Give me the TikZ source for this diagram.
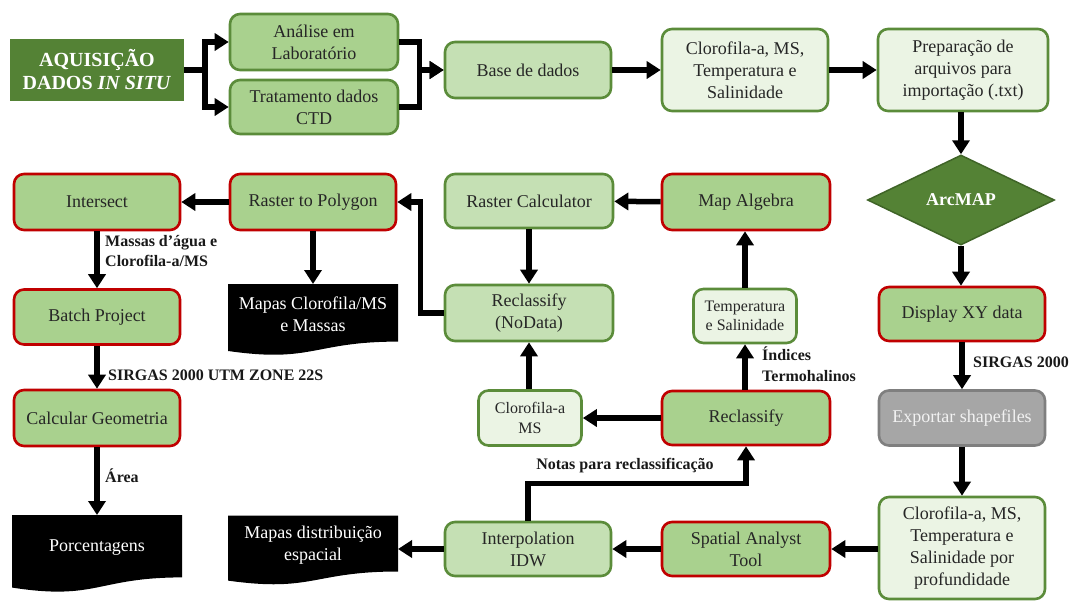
\documentclass[tikz,border=0pt]{standalone}
\usepackage{fontspec}
\setmainfont{Liberation Serif}
\usetikzlibrary{arrows.meta,shapes.geometric,calc,backgrounds}
\definecolor{dg}{HTML}{548235}
\definecolor{dgb}{HTML}{3F6427}
\definecolor{lg}{HTML}{A9D18E}
\definecolor{mg}{HTML}{C5E0B4}
\definecolor{vg}{HTML}{EBF4E4}
\definecolor{bg}{HTML}{5B8C3A}
\definecolor{rb}{HTML}{C00000}
\definecolor{gy}{HTML}{A6A6A6}
\definecolor{gyb}{HTML}{7F7F7F}
\newcommand\docfill[2]{\fill[black] (#1.north west) -- (#1.north east) -- ($(#1.north east)+(0,0.8*#2)$) .. controls ($(#1.north)+(0,0.8*#2)$) and ($(#1.north)+(0,1.1*#2)$) .. ($(#1.north west)+(0,0.93*#2)$) -- cycle;}
\begin{document}
\begin{tikzpicture}[x=1pt,y=-1pt,
  box/.style={rectangle, rounded corners=10pt, line width=2.6pt, align=center,
    font=\fontsize{18}{22}\selectfont, inner sep=1pt, text=black!85},
  gbox/.style={box, draw=bg},
  rbox/.style={box, draw=rb, fill=lg},
  small/.style={font=\fontsize{16}{19.5}\selectfont},
  doc/.style={rectangle, align=center, text=white, inner sep=0pt, outer sep=0pt,
    font=\fontsize{18}{22}\selectfont},
  arr/.style={line width=5.5pt, -{Triangle[length=14pt,width=17pt]}},
  lbl/.style={font=\bfseries\fontsize{16}{20.5}\selectfont, align=left, inner sep=0pt, text=black!90}
]
\useasboundingbox (0,0) rectangle (1074,603);

% top row
\node[rectangle, fill=dg, text=white, align=center, minimum width=174pt, minimum height=62pt,
  font=\bfseries\fontsize{20}{23}\selectfont] (aq) at (97,70) {AQUISIÇÃO\\DADOS \textit{IN SITU}};
\node[gbox, fill=lg, minimum width=168pt, minimum height=56pt] (ana) at (314,42) {Análise em\\Laboratório};
\node[gbox, fill=lg, minimum width=168pt, minimum height=54pt] (tra) at (314,107) {Tratamento dados\\CTD};
\node[gbox, fill=mg, minimum width=166pt, minimum height=56pt] (base) at (528,70) {Base de dados};
\node[gbox, fill=vg, minimum width=166pt, minimum height=82pt] (clo1) at (745,70) {Clorofila-a, MS,\\Temperatura e\\Salinidade};
\node[gbox, fill=vg, minimum width=170pt, minimum height=82pt] (prep) at (963,70) {Preparação de\\arquivos para\\importação (.txt)};

% right column
\node[diamond, fill=dg, draw=dgb, line width=1.5pt, inner sep=0pt, minimum width=187pt, minimum height=90pt,
  text=white, font=\bfseries\fontsize{18}{20}\selectfont] (arc) at (961,200) {ArcMAP};
\node[rbox, minimum width=166pt, minimum height=54pt] (disp) at (962,314) {Display XY data};
\node[box, fill=gy, draw=gyb, text=white!95!black, minimum width=166pt, minimum height=55pt] (exp) at (962,418) {Exportar shapefiles};
\node[gbox, fill=vg, minimum width=166pt, minimum height=102pt] (clo2) at (962,548) {Clorofila-a, MS,\\Temperatura e\\Salinidade por\\profundidade};

% bottom row
\node[rbox, minimum width=168pt, minimum height=54pt] (spa) at (746,549) {Spatial Analyst\\Tool};
\node[gbox, fill=mg, minimum width=166pt, minimum height=54pt] (int) at (528,549) {Interpolation\\IDW};
\node[doc, minimum width=170pt, minimum height=59pt] (mdist) at (313,545) {Mapas distribuição\\espacial};
\node[doc, minimum width=170pt, minimum height=66pt] (porc) at (97,548) {Porcentagens};

% left column
\node[rbox, minimum width=166pt, minimum height=56pt] (calc) at (97,418) {Calcular Geometria};
\node[rbox, minimum width=166pt, minimum height=55pt] (batch) at (97,317) {Batch Project};
\node[rbox, minimum width=166pt, minimum height=56pt] (inter) at (97,202) {Intersect};
\node[rbox, minimum width=166pt, minimum height=56pt] (r2p) at (313,202) {Raster to Polygon};
\node[doc, minimum width=170pt, minimum height=60pt] (mcl) at (313,314) {Mapas Clorofila/MS\\e Massas};

% middle
\node[gbox, fill=mg, minimum width=168pt, minimum height=54pt] (rcalc) at (529,201) {Raster Calculator};
\node[rbox, minimum width=168pt, minimum height=56pt] (malg) at (746,202) {Map Algebra};
\node[gbox, fill=mg, minimum width=168pt, minimum height=56pt] (rnod) at (529,313) {Reclassify\\(NoData)};
\node[gbox, fill=vg, small, minimum width=103pt, minimum height=54pt] (ts) at (745,316) {Temperatura\\e Salinidade};
\node[gbox, fill=vg, small, minimum width=103pt, minimum height=55pt] (cms) at (530,418) {Clorofila-a\\MS};
\node[rbox, minimum width=168pt, minimum height=54pt] (recl) at (746,418) {Reclassify};

% document shapes
\begin{scope}[on background layer]
\fill[white] (0,0) rectangle (1074,603);
\docfill{mcl}{72}
\docfill{mdist}{70}
\docfill{porc}{78}
\end{scope}

% connectors
\draw[arr] (aq.east) -- ++(21,0) |- (ana.west);
\draw[arr] (aq.east) -- ++(21,0) |- (tra.west);
\draw[arr] (ana.east) -- ++(20,0) |- (base.west);
\draw[arr] (tra.east) -- ++(20,0) |- (base.west);
\draw[arr] (base) -- (clo1);
\draw[arr] (clo1) -- (prep);
\draw[arr] (prep.south -| arc.north) -- (arc.north);
\draw[arr] (arc.south) -- (arc.south |- disp.north);
\draw[arr] (disp) -- (exp);
\draw[arr] (exp) -- (clo2);
\draw[arr] (clo2.west |- spa.east) -- (spa.east);
\draw[arr] (spa) -- (int);
\draw[arr] (int.west) -- (int.west -| mdist.east);
\draw[arr] (int.north) -- ++(0,-37) -| (recl.south);
\draw[arr] (recl) -- (cms);
\draw[arr] (recl.north -| ts.south) -- (ts.south);
\draw[arr] (ts.north) -- (ts.north |- malg.south);
\draw[arr] (malg) -- (rcalc);
\draw[arr] (rcalc) -- (rnod);
\draw[arr] (cms.north -| rnod.south) -- (rnod.south);
\draw[arr] (rnod.west) -- ++(-23,0) |- (r2p.east);
\draw[arr] (r2p) -- (inter);
\draw[arr] (r2p.south) -- (mcl.north);
\draw[arr] (inter) -- (batch);
\draw[arr] (batch) -- (calc);
\draw[arr] (calc.south) -- (porc.north);

% labels
\node[lbl, anchor=north west] (l1) at (105,235) {Massas d’água e\\Clorofila-a/MS};
\node[lbl, anchor=west] (l2) at (108,375) {SIRGAS 2000 UTM ZONE 22S};
\node[lbl, anchor=west] (l3) at (105,476) {Área};
\node[lbl, anchor=center] (l4) at (625,466) {Notas para reclassificação};
\node[lbl, anchor=north west] (l5) at (762,347) {Índices\\Termohalinos};
\node[lbl, anchor=west] (l6) at (973,362) {SIRGAS 2000};
\end{tikzpicture}
\end{document}
